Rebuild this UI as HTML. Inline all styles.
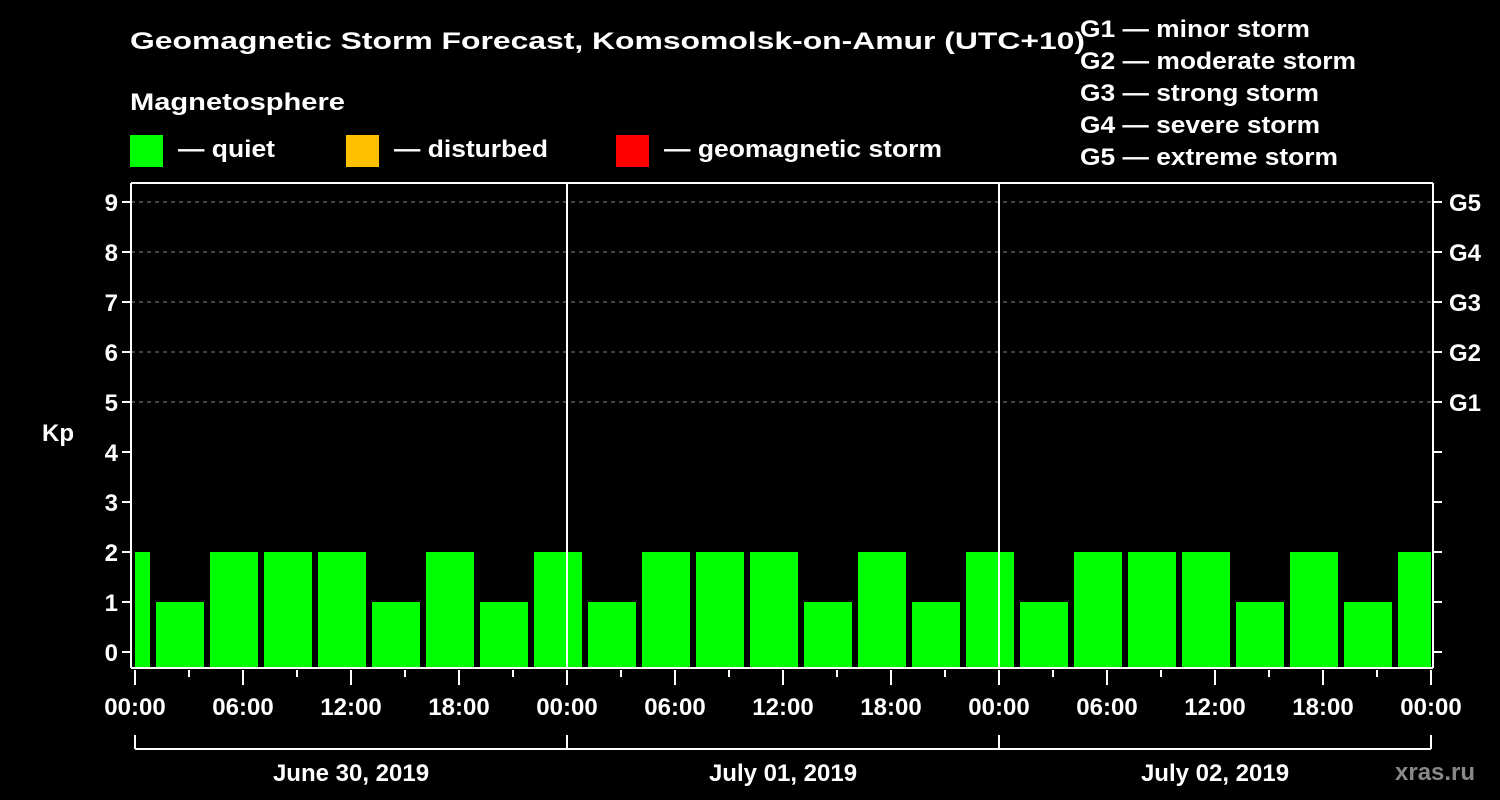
<!DOCTYPE html>
<html><head><meta charset="utf-8"><style>
html,body{margin:0;padding:0;background:#000;width:1500px;height:800px;overflow:hidden}
text{font-family:"Liberation Sans","DejaVu Sans",sans-serif;font-weight:bold;fill:#fff}
</style></head><body>
<svg id="chart" width="1500" height="800" xmlns="http://www.w3.org/2000/svg">
<rect width="1500" height="800" fill="#000"/>
<text x="130" y="49" font-size="24" textLength="955" lengthAdjust="spacingAndGlyphs">Geomagnetic Storm Forecast, Komsomolsk-on-Amur (UTC+10)</text>
<text x="130" y="110" font-size="24" textLength="215" lengthAdjust="spacingAndGlyphs">Magnetosphere</text>
<rect x="130" y="135" width="33" height="32" fill="#00ff00"/>
<text x="178" y="157" font-size="24" textLength="97" lengthAdjust="spacingAndGlyphs">— quiet</text>
<rect x="346" y="135" width="33" height="32" fill="#ffc000"/>
<text x="394" y="157" font-size="24" textLength="154" lengthAdjust="spacingAndGlyphs">— disturbed</text>
<rect x="616" y="135" width="33" height="32" fill="#ff0000"/>
<text x="664" y="157" font-size="24" textLength="278" lengthAdjust="spacingAndGlyphs">— geomagnetic storm</text>
<g font-size="24">
<text x="1080" y="37" textLength="230" lengthAdjust="spacingAndGlyphs">G1 — minor storm</text>
<text x="1080" y="69" textLength="276" lengthAdjust="spacingAndGlyphs">G2 — moderate storm</text>
<text x="1080" y="101" textLength="239" lengthAdjust="spacingAndGlyphs">G3 — strong storm</text>
<text x="1080" y="133" textLength="240" lengthAdjust="spacingAndGlyphs">G4 — severe storm</text>
<text x="1080" y="165" textLength="258" lengthAdjust="spacingAndGlyphs">G5 — extreme storm</text>
</g>
<text x="42" y="441" font-size="24">Kp</text>
<text x="1395" y="780" font-size="24" style="fill:#888">xras.ru</text>
<g id="grid"></g><g id="bars"></g><g id="axes"></g>
</svg>
<script>
const kpValues = [2,1,2,2,2,1,2,1,2, 1,2,2,2,1,2,1,2, 1,2,2,2,1,2,1,2];
const binStartHour = -2;
const yTicks = [0,1,2,3,4,5,6,7,8,9];
const gLabels = ["G1","G2","G3","G4","G5"];
const gLevels = [5,6,7,8,9];
const xTickLabels = ["00:00","06:00","12:00","18:00","00:00","06:00","12:00","18:00","00:00","06:00","12:00","18:00","00:00"];
const dayLabels = ["June 30, 2019","July 01, 2019","July 02, 2019"];

const NS="http://www.w3.org/2000/svg";
const X0=135, PXH=18, HOURS=72, Y0=652, PXK=50;
const pLeft=131, pRight=1433, pTop=183, pBottom=668;
const xs=h=>X0+h*PXH, ys=k=>Y0-k*PXK;
function mk(tag,attrs,parent){const e=document.createElementNS(NS,tag);for(const k in attrs)e.setAttribute(k,attrs[k]);parent.appendChild(e);return e;}
const gridG=document.getElementById('grid'),barsG=document.getElementById('bars'),axesG=document.getElementById('axes');

gLevels.forEach((k,i)=>{
  const l=mk('line',{x1:pLeft,x2:pRight,y1:ys(k),y2:ys(k),stroke:'#888','stroke-dasharray':'4,4','stroke-width':1},gridG);
  
  
  const t=mk('text',{x:1449,y:ys(k)+9,'font-size':24},axesG);t.textContent=gLabels[i];
  
  
});

kpValues.forEach((v,i)=>{
  let a=xs(binStartHour+i*3)+3, b=xs(binStartHour+i*3+3)-3;
  a=Math.max(a,xs(0)); b=Math.min(b,xs(HOURS));
  const r=mk('rect',{x:a,y:ys(v),width:b-a,height:pBottom-ys(v),fill:v>=5?'#ff0000':(v>=4?'#ffc000':'#00ff00')},barsG);
  
  
});

[[pLeft,pTop,pRight,pTop],[pLeft,pTop,pLeft,pBottom],[pLeft,pBottom,pRight,pBottom],[pRight,pTop,pRight,pBottom],[xs(24),pTop,xs(24),pBottom],[xs(48),pTop,xs(48),pBottom]].forEach((c,i)=>{
  const l=mk('line',{x1:c[0],y1:c[1],x2:c[2],y2:c[3],stroke:'#fff','stroke-width':2},axesG);
  
  
});

yTicks.forEach(k=>{
  mk('line',{x1:pLeft-9,x2:pLeft,y1:ys(k),y2:ys(k),stroke:'#fff','stroke-width':2},axesG);
  mk('line',{x1:pRight,x2:pRight+9,y1:ys(k),y2:ys(k),stroke:'#fff','stroke-width':2},axesG);
  const t=mk('text',{x:pLeft-13,y:ys(k)+9,'font-size':24,'text-anchor':'end'},axesG);t.textContent=k;
  
  
});

for(let h=0;h<=HOURS;h+=3){
  const major=h%6===0;
  mk('line',{x1:xs(h),x2:xs(h),y1:pBottom+2,y2:pBottom+(major?17:9),stroke:'#fff','stroke-width':2},axesG);
}
xTickLabels.forEach((s,i)=>{
  const t=mk('text',{x:xs(i*6),y:715,'font-size':24,'text-anchor':'middle'},axesG);t.textContent=s;
  
  
});
mk('line',{x1:xs(0),x2:xs(HOURS),y1:749,y2:749,stroke:'#fff','stroke-width':2},axesG);
for(let d=0;d<=3;d++) mk('line',{x1:xs(d*24),x2:xs(d*24),y1:735,y2:749,stroke:'#fff','stroke-width':2},axesG);
dayLabels.forEach((s,i)=>{
  const t=mk('text',{x:xs(i*24+12),y:781,'font-size':24,'text-anchor':'middle'},axesG);t.textContent=s;
  
  
});
</script>
</body></html>
